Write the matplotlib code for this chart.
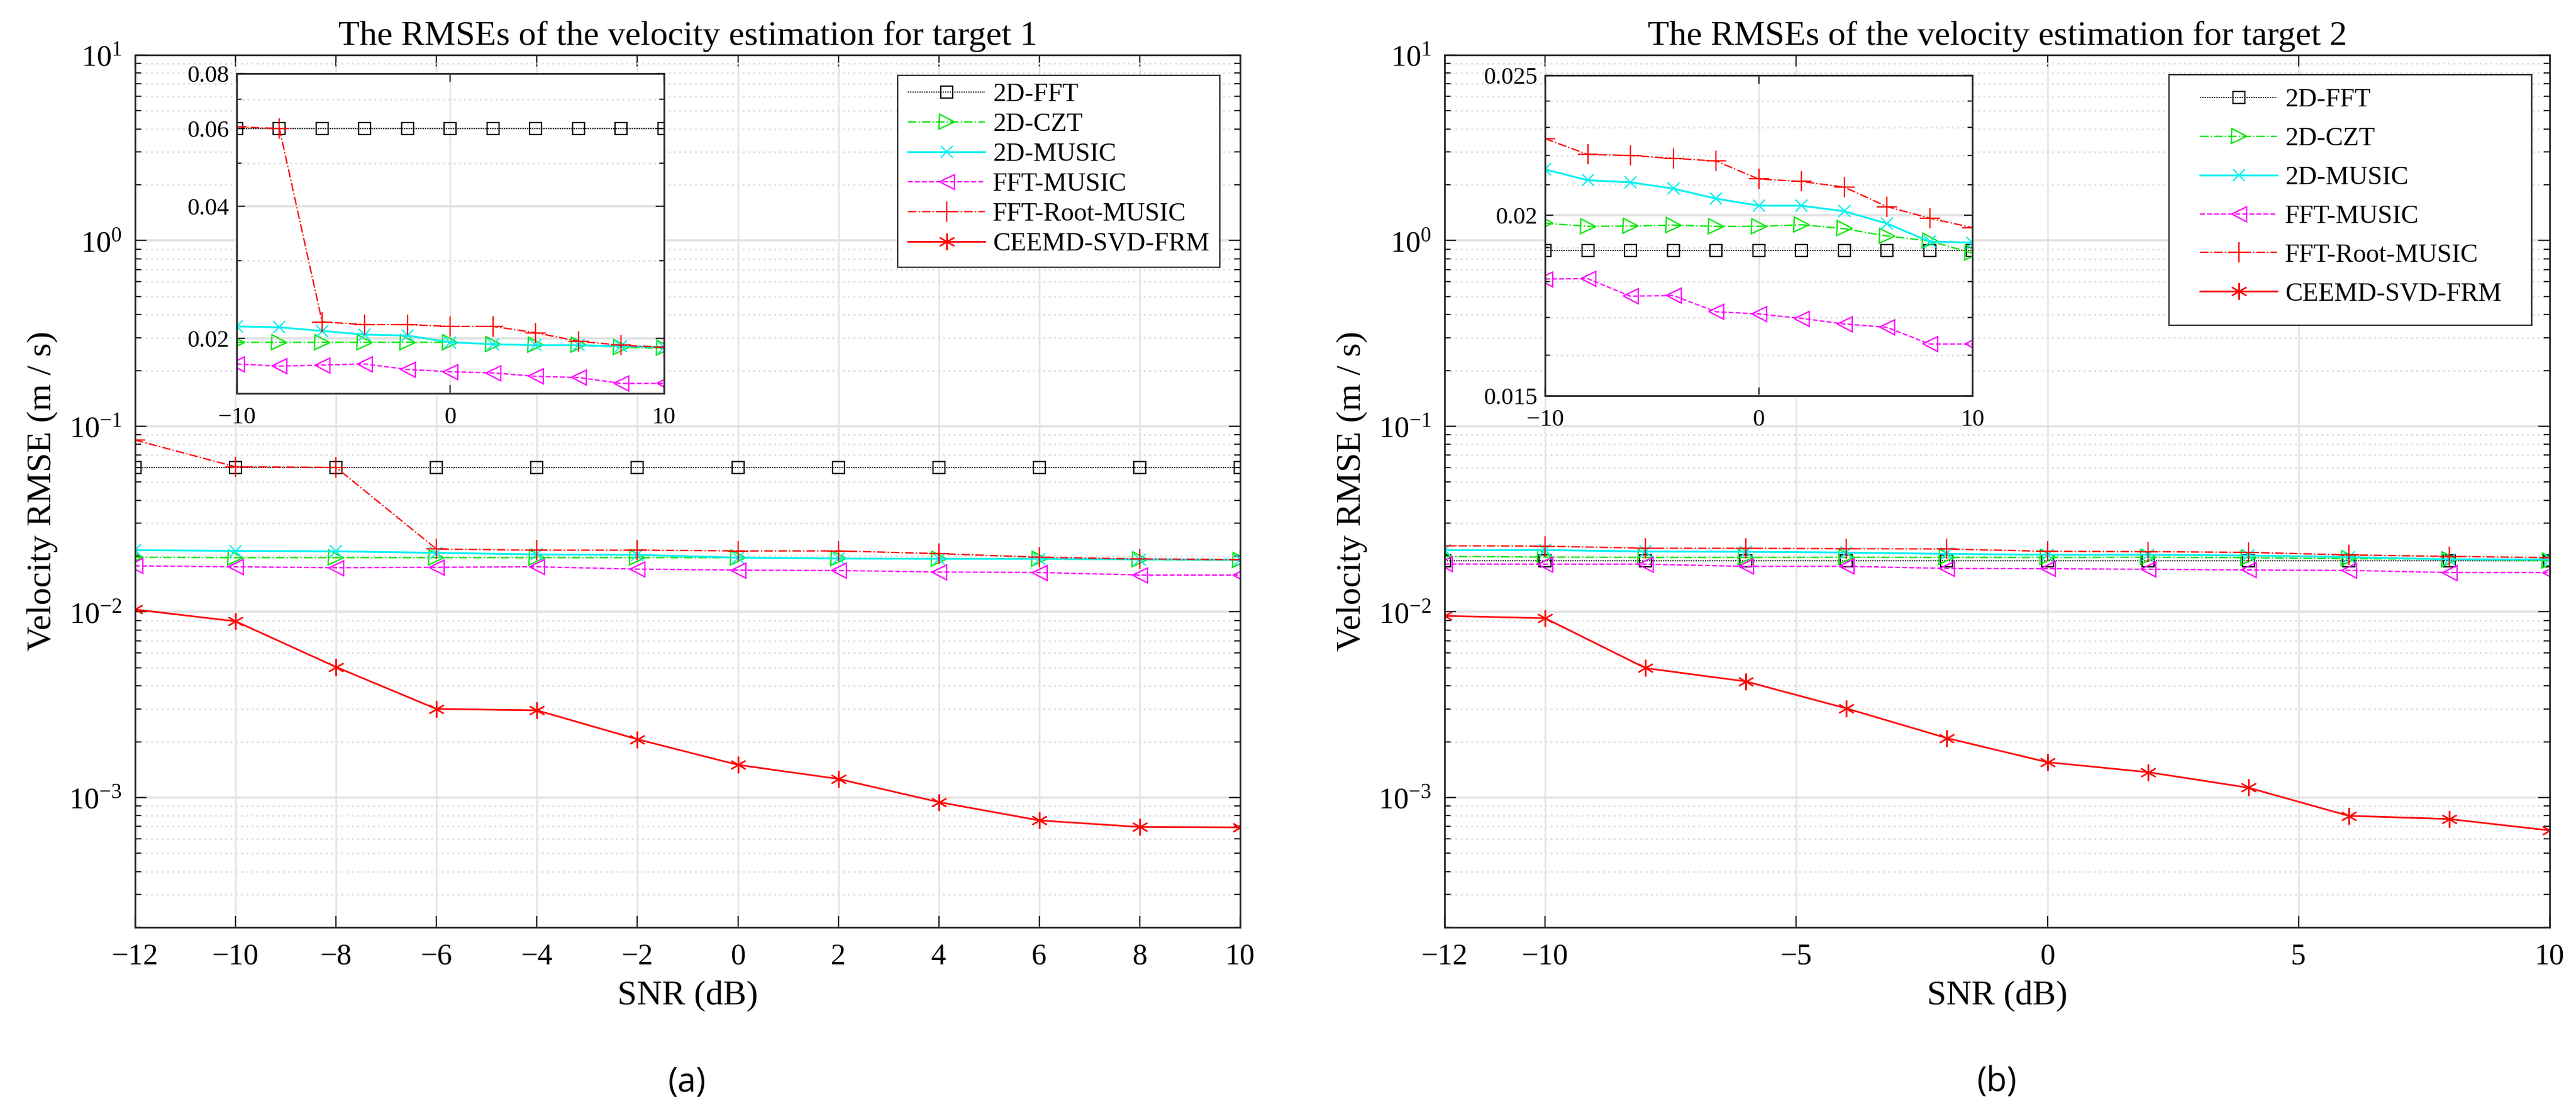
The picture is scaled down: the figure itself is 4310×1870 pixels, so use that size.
import numpy as np
import matplotlib
matplotlib.use('Agg')
import matplotlib.pyplot as plt
from matplotlib.ticker import LogLocator, FixedLocator, NullFormatter, FuncFormatter
from matplotlib.patches import Rectangle

plt.rcParams['font.family'] = ['Liberation Serif', 'DejaVu Serif']
plt.rcParams['mathtext.fontset'] = 'stix'

W, H = 4310, 1870

snr = [-12, -10, -8, -6, -4, -2, 0, 2, 4, 6, 8, 10]
names = ['2D-FFT', '2D-CZT', '2D-MUSIC', 'FFT-MUSIC', 'FFT-Root-MUSIC', 'CEEMD-SVD-FRM']

# target 1
fft_t1 = [0.0600, 0.0600, 0.0600, 0.0600, 0.0600, 0.0600, 0.0600, 0.0600, 0.0600, 0.0600, 0.0600, 0.0600]
czt_t1 = [0.0197, 0.0196, 0.0196, 0.0196, 0.0196, 0.0196, 0.0196, 0.0194, 0.0193, 0.0193, 0.0191, 0.0190]
music_t1 = [0.0215, 0.0213, 0.0212, 0.0208, 0.0204, 0.0203, 0.0196, 0.0194, 0.0193, 0.0193, 0.0192, 0.0191]
fftmusic_t1 = [0.0177, 0.0175, 0.0173, 0.0174, 0.0175, 0.0170, 0.0168, 0.0167, 0.0164, 0.0163, 0.0158, 0.0158]
root_t1 = [0.0843, 0.0605, 0.0600, 0.0218, 0.0215, 0.0215, 0.0213, 0.0213, 0.0206, 0.0197, 0.0193, 0.0191]
ceemd_t1 = [0.0103, 0.0089, 0.00505, 0.0030, 0.00295, 0.00206, 0.00150, 0.00126, 0.000945, 0.000753, 0.000694, 0.00069]

# target 2
fft_t2 = [0.0189, 0.0189, 0.0189, 0.0189, 0.0189, 0.0189, 0.0189, 0.0189, 0.0189, 0.0189, 0.0189, 0.0189]
czt_t2 = [0.0199, 0.01975, 0.01965, 0.01966, 0.01969, 0.01965, 0.01965, 0.0197, 0.01958, 0.01935, 0.0192, 0.01883]
music_t2 = [0.0215, 0.02152, 0.02115, 0.02108, 0.02087, 0.02054, 0.02031, 0.02031, 0.02013, 0.01974, 0.01918, 0.01915]
fftmusic_t2 = [0.0181, 0.01807, 0.01808, 0.01758, 0.0176, 0.01715, 0.01709, 0.01697, 0.01682, 0.01673, 0.01629, 0.01629]
root_t2 = [0.0227, 0.0226, 0.02204, 0.0220, 0.0219, 0.02181, 0.02119, 0.02111, 0.02092, 0.02028, 0.01991, 0.01961]
ceemd_t2 = [0.00952, 0.00925, 0.00498, 0.00422, 0.00302, 0.00209, 0.00155, 0.00137, 0.00113, 0.000797, 0.000766, 0.000665]

t1 = [fft_t1, czt_t1, music_t1, fftmusic_t1, root_t1, ceemd_t1]
t2 = [fft_t2, czt_t2, music_t2, fftmusic_t2, root_t2, ceemd_t2]

styles = [
    dict(color='black', ls=(0, (1, 1)), lw=1.4, marker='s', ms=15, mfc='none', mew=1.6),
    dict(color='#00e600', ls='-.', lw=1.6, marker='>', ms=18, mfc='none', mew=1.6),
    dict(color='#00f0f0', ls='-', lw=2.2, marker='x', ms=14, mfc='none', mew=1.6),
    dict(color='#ff00ff', ls='--', lw=1.6, marker='<', ms=18, mfc='none', mew=1.6),
    dict(color='#ff0000', ls='-.', lw=1.6, marker='+', ms=24, mfc='none', mew=1.6),
    dict(color='#ff0000', ls='-', lw=2.0, marker=(6, 2, 0), ms=20, mfc='none', mew=1.6),
]

spine_c = '#262626'
grid_c = '#e2e2e2'


def px_rect(x0, y0, x1, y1):
    return [x0 / W, 1 - y1 / H, (x1 - x0) / W, (y1 - y0) / H]


def style_axes(ax, labelsize, pad_x, pad_y, major_len, minor_len):
    for s in ax.spines.values():
        s.set_color(spine_c)
        s.set_linewidth(2.0)
    ax.tick_params(which='both', direction='in', top=True, right=True,
                   colors=spine_c, labelcolor='black', width=1.6)
    ax.tick_params(which='major', length=major_len, labelsize=labelsize)
    ax.tick_params(which='minor', length=minor_len)
    ax.tick_params(axis='x', which='major', pad=pad_x)
    ax.tick_params(axis='y', which='major', pad=pad_y)
    ax.set_axisbelow(True)
    ax.grid(True, which='major', axis='x', color=grid_c, lw=1.8)
    ax.grid(True, which='major', axis='y', color=grid_c, lw=2.6)
    ax.grid(True, which='minor', axis='y', color=grid_c, lw=2.4, ls=':')


def main_panel(rect, data, title, xticks, leg_frame, leg_anchor, leg_spacing):
    ax = fig.add_axes(px_rect(*rect))
    for y, st, nm in zip(data, styles, names):
        ax.plot(snr, y, label=nm, **st)
    ax.set_yscale('log')
    ax.set_xlim(-12, 10)
    ax.set_ylim(2e-4, 10)
    ax.set_xticks(xticks)
    ax.yaxis.set_major_locator(LogLocator(base=10, numticks=20))
    ax.yaxis.set_minor_locator(LogLocator(base=10, subs=np.arange(2, 10), numticks=40))
    ax.yaxis.set_minor_formatter(NullFormatter())
    style_axes(ax, 36, 19, 16, 14, 7)
    ax.set_title(title, fontsize=42, pad=12)
    ax.set_xlabel('SNR (dB)', fontsize=42)
    ax.xaxis.set_label_coords(0.5, -0.061)
    ax.set_ylabel('Velocity RMSE (m / s)', fontsize=42)
    ax.yaxis.set_label_coords(-0.07, 0.5)

    # legend box drawn separately so its padding can follow the original
    x0, y0, x1, y1 = leg_frame
    frame = Rectangle((x0 / W, 1 - y1 / H), (x1 - x0) / W, (y1 - y0) / H,
                      transform=fig.transFigure, facecolor='white',
                      edgecolor=spine_c, lw=1.6, zorder=4.5, clip_on=False)
    ax.add_artist(frame)
    leg = ax.legend(loc='upper left', bbox_to_anchor=(leg_anchor[0] / W, 1 - leg_anchor[1] / H),
                    bbox_transform=fig.transFigure, frameon=False, fontsize=31.5,
                    borderpad=0, borderaxespad=0, labelspacing=leg_spacing,
                    handlelength=2.95, handletextpad=0.3)
    leg.set_zorder(5)
    return ax


def inset_panel(rect, data, ylim, yticks, yminor):
    ax = fig.add_axes(px_rect(*rect))
    for y, st in zip(data, styles):
        ax.plot(snr[1:], y[1:], **st)
    ax.set_yscale('log')
    ax.set_xlim(-10, 10)
    ax.set_ylim(*ylim)
    ax.set_xticks([-10, 0, 10])
    ax.yaxis.set_major_locator(FixedLocator(yticks))
    ax.yaxis.set_major_formatter(FuncFormatter(lambda v, p: '%g' % v))
    ax.yaxis.set_minor_locator(FixedLocator(yminor))
    ax.yaxis.set_minor_formatter(NullFormatter())
    style_axes(ax, 29, 16, 9, 10, 6)
    ax.set_facecolor('white')
    return ax


fig = plt.figure(figsize=(W / 100, H / 100), dpi=100)

main_panel((226, 92, 2075, 1551), t1, 'The RMSEs of the velocity estimation for target 1',
           [-12, -10, -8, -6, -4, -2, 0, 2, 4, 6, 8, 10],
           (1502, 126, 2041, 447), (1519, 138), 0.23)
main_panel((2417, 92, 4266, 1551), t2, 'The RMSEs of the velocity estimation for target 2',
           [-12, -10, -5, 0, 5, 10],
           (3629, 125, 4236, 544), (3681, 147), 0.57)

inset_panel((396, 123, 1111, 658), t1, (0.015, 0.08),
            [0.02, 0.04, 0.06, 0.08], [0.03, 0.05, 0.07])
inset_panel((2585, 126, 3300, 662), t2, (0.015, 0.025),
            [0.015, 0.02, 0.025],
            [0.016, 0.017, 0.018, 0.019, 0.021, 0.022, 0.023, 0.024])

fig.text(1150 / W, 1 - 1811 / H, '(a)', ha='center', va='center', fontsize=40, family='Open Sans')
fig.text(3341 / W, 1 - 1811 / H, '(b)', ha='center', va='center', fontsize=40, family='Open Sans')

fig.savefig('out.png', dpi=100)
